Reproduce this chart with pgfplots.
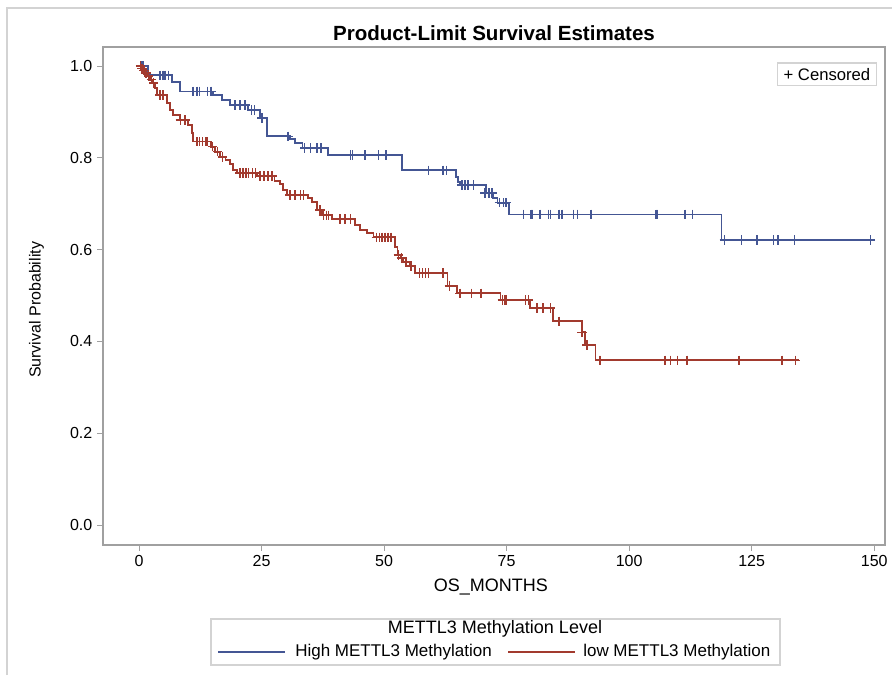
\documentclass[border=0pt]{standalone}
\usepackage{fontspec}
\setmainfont{Liberation Sans}
\usepackage{pgfplots}
\pgfplotsset{compat=1.18}
\definecolor{sasblue}{HTML}{445694}
\definecolor{sasred}{HTML}{A23A2E}
\definecolor{framegray}{HTML}{A0A0A0}
\definecolor{lightframe}{HTML}{D3D3D3}

\begin{document}
\begin{tikzpicture}
\useasboundingbox (0,0) rectangle (669pt,506.25pt);
\fill[white] (0,0) rectangle (669pt,506.25pt);
\draw[lightframe, line width=0.8pt] (5.25pt,0) -- (5.25pt,500.25pt) -- (669pt,500.25pt);
\begin{axis}[
  at={(77.25pt,97.5pt)}, anchor=south west,
  width=586.5pt, height=373.5pt, scale only axis,
  xmin=-7.35, xmax=152.2, ymin=-0.0436, ymax=1.0414,
  xtick={0,25,50,75,100,125,150}, ytick={0,0.2,0.4,0.6,0.8,1},
  tick pos=left, tick align=outside, major tick length=4.5pt,
  axis line style={framegray, line width=0.8pt},
  tick style={framegray, line width=0.7pt},
  /pgf/number format/assume math mode=true,
  yticklabel style={/pgf/number format/.cd, fixed, fixed zerofill, precision=1},
  xticklabel style={/pgf/number format/.cd, fixed, precision=0},
  ticklabel style={font=\fontsize{12}{14}\selectfont},
  title={Product-Limit Survival Estimates},
  title style={font=\bfseries\fontsize{15.4}{18}\selectfont, at={(axis description cs:0.5,0.996)}, anchor=base},
  xlabel={OS\_MONTHS},
  xlabel style={font=\fontsize{13.5}{16}\selectfont, at={(axis description cs:0.496,-0.094)}, anchor=base},
  ylabel={Survival Probability},
  ylabel style={font=\fontsize{12}{14}\selectfont, at={(axis description cs:-0.085,0.472)}, anchor=center},
  clip=false,
]
% High METTL3 Methylation
\addplot[sasblue, line width=1.1pt, const plot mark left, mark=none] coordinates {
(0,1.0) (1.8,0.980) (6.7,0.965) (8.4,0.945) (15.1,0.937) (16.9,0.926) (18.6,0.915)
(22.2,0.904) (24.7,0.887) (26.1,0.847) (30.8,0.841) (31.8,0.832) (33.3,0.821)
(38.6,0.806) (53.7,0.773) (64.7,0.758) (65.1,0.747) (65.5,0.741) (70.8,0.723)
(72.2,0.712) (73.1,0.702) (75.5,0.677) (118.8,0.621) (149.8,0.621)};
\addplot[sasblue, only marks, mark=+, mark size=3.5pt, line width=1pt] coordinates {
(0.4,1.0) (0.8,1.0) (4.3,0.980) (4.9,0.980) (5.3,0.980) (6.0,0.980)
(11.0,0.945) (11.8,0.945) (12.4,0.945) (14.0,0.945) (14.7,0.945)
(19.6,0.915) (20.6,0.915) (21.6,0.915) (23.0,0.904) (23.6,0.904) (25.1,0.887)
(30.4,0.847) (33.8,0.821) (35.0,0.821) (36.3,0.821) (37.1,0.821)
(43.1,0.806) (43.5,0.806) (46.1,0.806) (48.8,0.806) (50.4,0.806)
(59.0,0.773) (62.0,0.773) (62.7,0.773)
(65.9,0.741) (66.5,0.741) (67.1,0.741) (68.2,0.741)
(70.6,0.723) (71.4,0.723) (72.0,0.723)
(73.5,0.702) (74.3,0.702) (74.9,0.702)
(78.4,0.677) (80.0,0.677) (80.2,0.677) (81.8,0.677) (83.5,0.677) (83.9,0.677)
(85.7,0.677) (86.3,0.677) (88.6,0.677) (89.4,0.677) (92.2,0.677)
(105.5,0.677) (105.7,0.677) (111.4,0.677) (112.9,0.677)
(119.4,0.621) (122.9,0.621) (126.1,0.621) (129.4,0.621) (130.4,0.621)
(133.7,0.621) (149.2,0.621)};
% low METTL3 Methylation
\addplot[sasred, line width=1.1pt, const plot mark left, mark=none] coordinates {
(0,1.0) (0.4,0.995) (0.8,0.990) (1.2,0.985) (1.8,0.978) (2.2,0.970) (2.7,0.963)
(3.3,0.952) (3.7,0.937) (5.7,0.919) (6.3,0.904) (6.9,0.893) (8.4,0.882)
(10.0,0.871) (10.8,0.854) (11.0,0.835) (14.7,0.824) (15.5,0.813) (16.5,0.802)
(17.6,0.795) (18.6,0.786) (19.2,0.773) (20.0,0.767) (24.1,0.760) (27.6,0.749)
(28.8,0.743) (29.4,0.730) (30.2,0.719) (34.5,0.712) (35.3,0.704) (36.3,0.686)
(37.3,0.675) (39.4,0.667) (44.1,0.654) (45.1,0.643) (46.5,0.636) (47.8,0.627)
(52.2,0.606) (52.7,0.588) (53.3,0.582) (53.9,0.573) (55.3,0.564) (56.3,0.549)
(62.9,0.521) (64.9,0.505) (73.7,0.490) (79.8,0.473) (84.5,0.444) (90.4,0.420)
(91.0,0.392) (93.1,0.359) (134.7,0.359)};
\addplot[sasred, only marks, mark=+, mark size=3.5pt, line width=1pt] coordinates {
(0.3,1.0) (0.6,0.995) (1.0,0.990) (1.4,0.985) (2.0,0.978) (2.5,0.970) (3.0,0.963)
(4.3,0.937) (4.9,0.937) (8.4,0.882) (9.4,0.882)
(11.8,0.835) (12.4,0.835) (12.9,0.835) (13.5,0.835) (13.9,0.835)
(15.0,0.824) (16.0,0.813) (17.0,0.802)
(20.6,0.767) (21.2,0.767) (21.8,0.767) (22.4,0.767) (23.1,0.767) (23.7,0.767)
(24.7,0.760) (25.5,0.760) (26.3,0.760) (27.1,0.760)
(30.8,0.719) (31.8,0.719) (32.9,0.719) (33.5,0.719)
(36.9,0.686) (37.6,0.675) (38.2,0.675) (38.6,0.675)
(41.0,0.667) (42.0,0.667) (43.1,0.667)
(48.4,0.627) (49.0,0.627) (49.6,0.627) (50.2,0.627) (50.8,0.627) (51.4,0.627)
(52.9,0.588) (53.5,0.582) (54.5,0.573) (55.5,0.564)
(57.2,0.549) (57.8,0.549) (58.4,0.549) (59.0,0.549) (62.0,0.549)
(63.3,0.521) (65.5,0.505) (67.8,0.505) (69.8,0.505)
(74.1,0.490) (74.5,0.490) (74.9,0.490) (78.8,0.490) (79.4,0.490)
(81.2,0.473) (82.4,0.473) (83.9,0.473)
(85.7,0.444) (90.4,0.420) (91.4,0.392)
(94.0,0.359) (94.2,0.359) (107.3,0.359) (108.4,0.359) (109.8,0.359) (111.8,0.359)
(122.4,0.359) (131.2,0.359) (133.9,0.359)};
\node[draw=lightframe, line width=0.8pt, anchor=north east, font=\fontsize{12.5}{14}\selectfont,
  inner xsep=4.5pt, inner ysep=3.8pt] at (axis description cs:0.9895,0.969) {+ Censored};
\end{axis}
% legend
\draw[lightframe, line width=0.8pt] (158.25pt,7.5pt) rectangle (585pt,42pt);
\node[font=\fontsize{13.5}{16}\selectfont] at (371.25pt,34.5pt) {METTL3 Methylation Level};
\draw[sasblue, line width=1pt] (163.5pt,17.25pt) -- (213.75pt,17.25pt);
\node[anchor=west, inner sep=0pt, font=\fontsize{12.75}{15}\selectfont] at (221.25pt,17.25pt) {High METTL3 Methylation};
\draw[sasred, line width=1pt] (381pt,17.25pt) -- (431.25pt,17.25pt);
\node[anchor=west, inner sep=0pt, font=\fontsize{12.75}{15}\selectfont] at (437.25pt,17.25pt) {low METTL3 Methylation};
\end{tikzpicture}
\end{document}
